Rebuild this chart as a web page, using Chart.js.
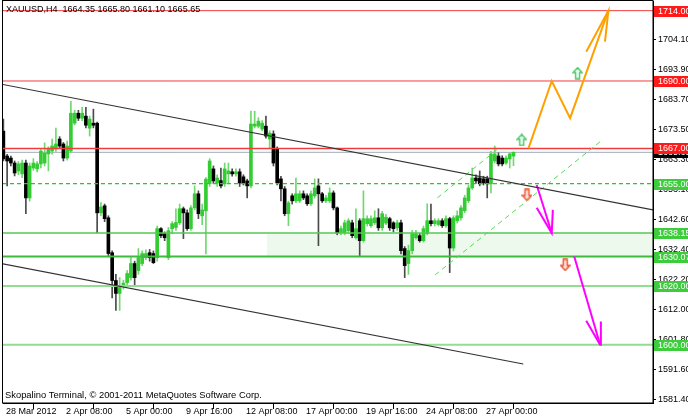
<!DOCTYPE html>
<html>
<head>
<meta charset="utf-8">
<script src="https://cdn.jsdelivr.net/npm/chart.js@4.4.1/dist/chart.umd.min.js"></script>
<style>
  html, body { margin: 0; padding: 0; background: #fff; }
  #wrap { width: 688px; height: 418px; }
</style>
</head>
<body>
<div id="wrap"><canvas id="chart" width="688" height="418"></canvas></div>
<script>
// XAUUSD H4 bars (index 0 = first visible bar)
const opens = [
  1672.9, 1664.4, 1663.7, 1662.0, 1659.3, 1658.3, 1662.0, 1650.1, 1660.3, 1660.0,
  1661.7, 1662.0, 1665.1, 1666.1, 1666.8, 1670.2, 1668.5, 1663.7, 1666.1, 1675.6,
  1679.0, 1677.3, 1678.0, 1673.9, 1675.6, 1675.6, 1645.0, 1647.4, 1643.3, 1631.4,
  1621.9, 1617.5, 1620.0, 1621.2, 1622.9, 1627.7, 1625.3, 1627.7, 1629.7, 1631.4,
  1631.1, 1629.7, 1639.6, 1637.9, 1629.7, 1639.6, 1640.0, 1641.6, 1646.4, 1645.0,
  1639.6, 1646.7, 1651.5, 1644.0, 1645.7, 1655.0, 1660.0, 1655.2, 1656.0, 1654.9,
  1658.3, 1659.0, 1658.3, 1659.0, 1657.3, 1655.9, 1654.2, 1674.6, 1674.6, 1673.6,
  1674.6, 1670.2, 1671.9, 1666.8, 1656.6, 1653.2, 1644.7, 1650.8, 1649.1, 1649.1,
  1651.5, 1650.8, 1648.1, 1650.8, 1654.2, 1651.5, 1649.1, 1649.1, 1651.8, 1646.7,
  1638.2, 1638.2, 1638.9, 1641.6, 1636.5, 1642.3, 1635.5, 1641.3, 1640.6, 1641.6,
  1643.3, 1639.9, 1641.5, 1643.0, 1641.6, 1639.9, 1641.6, 1632.8, 1627.7, 1632.1,
  1636.5, 1637.2, 1635.5, 1637.9, 1642.3, 1641.3, 1641.0, 1642.3, 1640.6, 1643.0,
  1633.0, 1642.3, 1643.3, 1645.7, 1649.1, 1653.5, 1656.9, 1656.9, 1656.6, 1656.6,
  1654.9, 1662.7, 1664.4, 1663.7, 1662.0, 1663.4, 1664.35
];
const highs = [
  1677.0, 1665.0, 1664.4, 1662.7, 1662.5, 1663.0, 1663.0, 1662.0, 1663.5, 1662.5,
  1667.0, 1668.9, 1667.5, 1670.2, 1673.9, 1671.0, 1669.0, 1669.5, 1683.1, 1680.0,
  1680.0, 1681.0, 1681.0, 1678.0, 1680.4, 1676.0, 1648.5, 1648.0, 1644.0, 1632.0,
  1624.0, 1622.9, 1622.0, 1625.3, 1629.7, 1628.5, 1632.8, 1632.0, 1632.4, 1632.5,
  1632.0, 1640.5, 1640.0, 1638.5, 1640.0, 1642.0, 1646.4, 1648.0, 1647.0, 1646.0,
  1647.5, 1654.2, 1652.5, 1648.0, 1657.0, 1663.5, 1661.0, 1658.0, 1660.3, 1662.0,
  1662.0, 1660.0, 1660.0, 1660.0, 1658.0, 1656.5, 1679.7, 1679.7, 1677.5, 1676.5,
  1678.0, 1673.0, 1673.0, 1667.5, 1657.5, 1654.0, 1649.0, 1651.5, 1656.9, 1652.5,
  1652.5, 1651.5, 1652.5, 1656.6, 1656.6, 1652.0, 1651.0, 1653.5, 1652.5, 1647.0,
  1640.5, 1642.5, 1643.0, 1642.5, 1646.4, 1643.0, 1652.5, 1644.0, 1644.0, 1645.7,
  1646.4, 1645.5, 1644.5, 1643.5, 1642.0, 1642.5, 1642.5, 1633.5, 1634.0, 1639.0,
  1639.0, 1638.0, 1640.5, 1648.1, 1648.0, 1643.0, 1643.0, 1643.0, 1644.0, 1643.5,
  1644.0, 1645.7, 1647.5, 1651.0, 1654.5, 1660.3, 1658.0, 1659.3, 1657.5, 1657.5,
  1666.0, 1667.8, 1665.5, 1664.5, 1664.5, 1665.5, 1665.80
];
const lows = [
  1662.7, 1654.2, 1661.0, 1657.6, 1658.0, 1657.0, 1644.7, 1649.0, 1659.5, 1659.0,
  1660.3, 1661.0, 1659.3, 1665.0, 1666.0, 1667.0, 1662.7, 1663.0, 1665.5, 1675.0,
  1676.5, 1676.5, 1674.0, 1671.2, 1674.0, 1638.2, 1644.0, 1642.0, 1630.0, 1616.0,
  1611.7, 1611.7, 1619.0, 1620.5, 1622.0, 1620.2, 1624.0, 1627.0, 1629.0, 1628.5,
  1627.7, 1628.5, 1636.5, 1635.5, 1629.0, 1638.0, 1639.0, 1641.0, 1636.2, 1639.0,
  1639.0, 1646.0, 1643.0, 1641.0, 1631.0, 1654.0, 1655.0, 1654.0, 1653.5, 1654.0,
  1655.2, 1657.5, 1657.5, 1654.0, 1654.5, 1650.1, 1653.5, 1674.0, 1674.0, 1673.0,
  1670.5, 1667.1, 1661.0, 1654.5, 1649.1, 1644.0, 1640.6, 1648.0, 1648.5, 1648.5,
  1649.5, 1647.5, 1647.5, 1650.0, 1633.8, 1648.5, 1648.5, 1648.5, 1646.0, 1637.5,
  1637.5, 1637.5, 1638.0, 1636.5, 1636.0, 1630.4, 1635.0, 1640.5, 1640.0, 1641.0,
  1639.0, 1639.0, 1641.0, 1639.0, 1638.5, 1639.0, 1631.0, 1622.9, 1624.0, 1631.0,
  1636.0, 1635.0, 1635.0, 1637.5, 1640.5, 1640.5, 1640.5, 1640.0, 1640.0, 1624.6,
  1632.0, 1641.5, 1642.5, 1645.0, 1648.5, 1653.0, 1655.0, 1654.2, 1654.5, 1650.1,
  1651.8, 1662.0, 1661.0, 1661.0, 1661.5, 1660.3, 1661.10
];
const closes = [
  1663.4, 1662.7, 1662.0, 1658.6, 1661.7, 1662.0, 1650.1, 1661.0, 1662.0, 1661.7,
  1666.1, 1665.4, 1666.8, 1667.8, 1668.5, 1667.8, 1663.7, 1667.8, 1679.0, 1679.0,
  1677.3, 1679.0, 1674.9, 1677.0, 1674.9, 1645.0, 1647.0, 1643.0, 1631.1, 1621.9,
  1617.5, 1619.5, 1621.0, 1624.3, 1627.7, 1622.9, 1629.7, 1631.1, 1631.1, 1629.7,
  1628.0, 1639.6, 1637.2, 1636.5, 1638.9, 1641.3, 1641.7, 1646.4, 1645.0, 1639.6,
  1646.7, 1651.5, 1644.7, 1646.0, 1656.5, 1662.7, 1655.9, 1656.9, 1654.2, 1660.0,
  1659.3, 1658.3, 1659.0, 1655.2, 1655.2, 1654.2, 1675.3, 1675.3, 1676.3, 1675.6,
  1671.2, 1672.2, 1662.0, 1655.2, 1653.2, 1644.7, 1648.4, 1649.1, 1651.5, 1651.5,
  1650.1, 1648.1, 1651.5, 1653.5, 1651.5, 1649.1, 1650.1, 1651.8, 1646.7, 1638.2,
  1639.6, 1641.6, 1642.3, 1637.2, 1639.6, 1635.5, 1643.0, 1643.0, 1643.0, 1643.3,
  1639.9, 1644.7, 1643.5, 1639.9, 1639.6, 1641.6, 1632.1, 1627.0, 1632.1, 1637.9,
  1637.9, 1635.5, 1639.6, 1642.3, 1641.3, 1642.3, 1642.3, 1640.6, 1643.0, 1633.0,
  1643.3, 1644.0, 1646.7, 1650.1, 1653.5, 1656.9, 1655.9, 1654.9, 1655.2, 1654.9,
  1665.1, 1665.1, 1661.7, 1661.7, 1663.7, 1665.1, 1665.65
];

// axis ticks
const xTickBars = [0, 16, 32, 48, 64, 80, 96, 112, 128];
const xTickLabels = ['28 Mar 2012', '2 Apr 08:00', '5 Apr 00:00', '9 Apr 16:00', '12 Apr 08:00',
  '17 Apr 00:00', '19 Apr 16:00', '24 Apr 08:00', '27 Apr 00:00'];
const yTickValues = [1704.10, 1693.90, 1683.70, 1673.50, 1663.30, 1653.10, 1642.60,
  1632.40, 1622.20, 1612.00, 1601.80, 1591.60, 1581.40];

// horizontal levels
const resistanceLevels = [1714.00, 1690.00, 1667.00];
const supportLevels = [1655.00, 1638.15, 1630.07, 1620.00, 1600.00];
const bidPrice = 1665.65;
const zoneStartBar = 70.3;

// drawn objects: [bar, price] points
const channelUpper = [[-0.9, 1689.0], [173.2, 1646.0]];
const channelLower = [[-0.9, 1627.8], [138.6, 1593.4]];
const dashUpper = [[115.7, 1650.1], [132.5, 1667.5]];
const dashLower = [[115.1, 1623.8], [159.6, 1669.8]];
const bullPath = [[140.0, 1667.0], [146.2, 1690.0], [151.1, 1677.3], [161.3, 1714.0]];
const bullHead = [[155.4, 1700.0], [161.3, 1714.0], [160.4, 1703.4]];
const bearPath1 = [[142.2, 1654.5], [146.2, 1638.1]];
const bearHead1 = [[142.2, 1646.7], [146.2, 1638.1], [146.5, 1646.0]];
const bearPath2 = [[152.2, 1630.1], [159.1, 1600.0]];
const bearHead2 = [[155.4, 1608.2], [159.1, 1600.0], [159.3, 1607.9]];
const upSignals = [[138.2, 1669.9], [153.1, 1692.7]];
const downSignals = [[139.6, 1651.1], [149.8, 1627.2]];

const X_MIN = -0.1, X_MAX = 173.2;
const Y_MIN = 1580.1, Y_MAX = 1717.3;
const FONT = 'Liberation Sans, Arial, sans-serif';

const pts = arr => arr.map(p => ({ x: p[0], y: p[1] }));
const flat = v => [{ x: X_MIN, y: v }, { x: X_MAX, y: v }];

function makeArrow(up, stroke, fill) {
    const c = document.createElement('canvas');
    c.width = 11; c.height = 13;
    const g = c.getContext('2d');
    const p = [[5.5, 1], [10, 6], [7.5, 6], [7.5, 12], [3.5, 12], [3.5, 6], [1, 6]];
    g.beginPath();
    p.forEach(([x, y], i) => {
        const yy = up ? y : 13 - y;
        if (i === 0) g.moveTo(x, yy); else g.lineTo(x, yy);
    });
    g.closePath();
    g.fillStyle = fill;
    g.fill();
    g.strokeStyle = stroke;
    g.lineWidth = 1.4;
    g.stroke();
    return c;
}

const bull = closes.map((c, i) => c >= opens[i]);
const wickData = highs.map((h, i) => ({ x: i, y: [lows[i], h] }));
const bodyData = opens.map((o, i) => ({ x: i, y: [Math.min(o, closes[i]), Math.max(o, closes[i]) + (o === closes[i] ? 0.3 : 0)] }));

function lineSet(data, color, width, extra) {
    return Object.assign({
        type: 'line', data: data, borderColor: color, borderWidth: width,
        pointRadius: 0, fill: false, tension: 0, order: 1
    }, extra || {});
}

const datasets = [
    // zone between 1638.15 and 1630.07
    lineSet([{ x: zoneStartBar, y: supportLevels[1] }, { x: X_MAX, y: supportLevels[1] }], 'rgba(0,0,0,0)', 0,
        { fill: '+1', backgroundColor: '#eef9ee', order: 10 }),
    lineSet([{ x: zoneStartBar, y: supportLevels[2] }, { x: X_MAX, y: supportLevels[2] }], 'rgba(0,0,0,0)', 0, { order: 10 }),
    // levels
    lineSet(flat(bidPrice), '#a3acbb', 1, { order: 9 }),
    lineSet(flat(resistanceLevels[0]), '#f23c3c', 1),
    lineSet(flat(resistanceLevels[1]), '#f23c3c', 1),
    lineSet(flat(resistanceLevels[2]), '#f23c3c', 1.5),
    lineSet(flat(supportLevels[0]), '#22cc22', 1.3, { borderDash: [4, 3] }),
    lineSet(flat(supportLevels[1]), '#55c855', 1.5),
    lineSet(flat(supportLevels[2]), '#3cbb3c', 2),
    lineSet(flat(supportLevels[3]), '#93dd93', 2),
    lineSet(flat(supportLevels[4]), '#93dd93', 2),
    // candles
    {
        type: 'bar', data: wickData, barThickness: 1, grouped: false, order: 5,
        backgroundColor: bull.map(b => b ? '#6fd86f' : '#4a4a4a'), borderWidth: 0
    },
    {
        type: 'bar', data: bodyData, barThickness: 3, grouped: false, order: 4,
        backgroundColor: bull.map(b => b ? '#33cc33' : '#000000'), borderWidth: 0
    },
    // channels and projections
    lineSet(pts(channelUpper), '#333333', 1.2, { order: 0 }),
    lineSet(pts(channelLower), '#333333', 1.2, { order: 0 }),
    lineSet(pts(dashUpper), '#55dd55', 1, { borderDash: [5, 4], order: 0 }),
    lineSet(pts(dashLower), '#55dd55', 1, { borderDash: [5, 4], order: 0 }),
    lineSet(pts(bullPath), '#ffa000', 2, { order: 0 }),
    lineSet(pts(bullHead), '#ffa000', 2, { order: 0 }),
    lineSet(pts(bearPath1), '#ff00ff', 2, { order: 0 }),
    lineSet(pts(bearHead1), '#ff00ff', 2, { order: 0 }),
    lineSet(pts(bearPath2), '#ff00ff', 2, { order: 0 }),
    lineSet(pts(bearHead2), '#ff00ff', 2, { order: 0 }),
    lineSet(pts(upSignals), 'rgba(0,0,0,0)', 0,
        { showLine: false, pointRadius: 6, pointStyle: makeArrow(true, '#4fc86a', '#e6fff0'), order: 0 }),
    lineSet(pts(downSignals), 'rgba(0,0,0,0)', 0,
        { showLine: false, pointRadius: 6, pointStyle: makeArrow(false, '#ee5030', '#ffe4dc'), order: 0 })
];

// price tags on the right axis, title and copyright
const priceTags = [
    [supportLevels[0], '#3ccc3c'], [supportLevels[1], '#3ccc3c'], [supportLevels[2], '#3ccc3c'],
    [supportLevels[3], '#3ccc3c'], [supportLevels[4], '#3ccc3c'],
    [bidPrice, '#000000'],
    [resistanceLevels[0], '#ff1a1a'], [resistanceLevels[1], '#ff1a1a'], [resistanceLevels[2], '#ff1a1a']
];

const decorations = {
    id: 'decorations',
    afterDraw(chart) {
        const ctx = chart.ctx;
        const area = chart.chartArea;
        const y = chart.scales.y;
        ctx.save();
        ctx.strokeStyle = '#000';
        ctx.lineWidth = 1;
        ctx.strokeRect(area.left - 0.5, area.top - 0.5, area.right - area.left + 0.5, area.bottom - area.top + 0.5);

        ctx.font = '9px ' + FONT;
        ctx.textBaseline = 'middle';
        priceTags.forEach(([v, color]) => {
            const py = Math.round(y.getPixelForValue(v));
            ctx.fillStyle = color;
            ctx.fillRect(area.right + 1, py - 5, 40, 11);
            ctx.fillStyle = '#fff';
            ctx.textAlign = 'left';
            ctx.fillText(v.toFixed(2), area.right + 5, py + 0.5);
        });

        ctx.fillStyle = '#000';
        ctx.fillText('XAUUSD,H4  1664.35 1665.80 1661.10 1665.65', 6, 10);
        ctx.font = '9.4px ' + FONT;
        ctx.fillText('Skopalino Terminal, \u00a9 2001-2011 MetaQuotes Software Corp.', 5, 395);
        ctx.restore();
    }
};

new Chart(document.getElementById('chart'), {
    type: 'bar',
    data: { datasets: datasets },
    options: {
        responsive: false,
        animation: false,
        events: [],
        layout: { autoPadding: false, padding: { left: 3, top: 1, right: 0, bottom: 0 } },
        plugins: { legend: { display: false }, tooltip: { enabled: false } },
        scales: {
            x: {
                type: 'linear', min: X_MIN, max: X_MAX, offset: false,
                afterBuildTicks: s => { s.ticks = xTickBars.map(v => ({ value: v })); },
                afterFit: s => { s.height = 15; s.paddingLeft = 0; s.paddingRight = 0; },
                grid: { drawOnChartArea: false, tickLength: 6, color: '#000' },
                border: { color: '#000' },
                ticks: {
                    autoSkip: false, maxRotation: 0, align: 'start', padding: -3,
                    color: '#000', font: { family: FONT, size: 9 },
                    callback: (v, i) => ' ' + xTickLabels[i]
                }
            },
            y: {
                type: 'linear', position: 'right', min: Y_MIN, max: Y_MAX,
                afterBuildTicks: s => { s.ticks = yTickValues.map(v => ({ value: v })); },
                afterFit: s => { s.width = 35; s.paddingTop = 0; s.paddingBottom = 0; },
                grid: { drawOnChartArea: false, tickLength: 3, color: '#000' },
                border: { color: '#000' },
                ticks: {
                    padding: 2, color: '#000', font: { family: FONT, size: 9 },
                    callback: v => Number(v).toFixed(2)
                }
            }
        }
    },
    plugins: [decorations]
});
</script>
</body>
</html>
